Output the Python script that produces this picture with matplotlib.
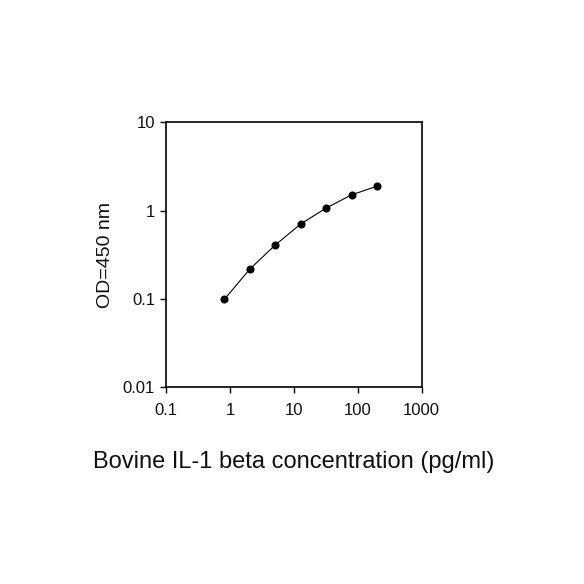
import matplotlib
matplotlib.use("Agg")
import matplotlib.pyplot as plt
from matplotlib.ticker import FixedLocator, FixedFormatter, NullLocator

plt.rcParams['font.family'] = ['Liberation Sans', 'DejaVu Sans']

concentration = [0.8192, 2.048, 5.12, 12.8, 32, 80, 200]
od450 = [0.099, 0.218, 0.408, 0.706, 1.07, 1.51, 1.89]

x_ticks = [0.1, 1, 10, 100, 1000]
x_tick_labels = ["0.1", "1", "10", "100", "1000"]
y_ticks = [0.01, 0.1, 1, 10]
y_tick_labels = ["0.01", "0.1", "1", "10"]

fig = plt.figure(figsize=(5.84, 5.84), dpi=100)
ax = fig.add_axes([166/584, 1-387.3/584, (421.7-166)/584, (387.3-122.3)/584])

ax.plot(concentration, od450, color='black', linewidth=0.8,
        marker='o', markersize=4.8, markerfacecolor='black', markeredgecolor='black')

ax.set_xscale('log')
ax.set_yscale('log')
ax.set_xlim(0.1, 1000)
ax.set_ylim(0.01, 10)

ax.xaxis.set_major_locator(FixedLocator(x_ticks))
ax.xaxis.set_major_formatter(FixedFormatter(x_tick_labels))
ax.xaxis.set_minor_locator(NullLocator())
ax.yaxis.set_major_locator(FixedLocator(y_ticks))
ax.yaxis.set_major_formatter(FixedFormatter(y_tick_labels))
ax.yaxis.set_minor_locator(NullLocator())

ax.tick_params(axis='both', which='major', direction='out', length=4, width=1,
               labelsize=12, color='black', labelcolor='#111111', pad=4)
ax.tick_params(axis='x', pad=7)

for s in ax.spines.values():
    s.set_linewidth(1.2)
    s.set_color('black')

ax.set_xlabel("Bovine IL-1 beta concentration (pg/ml)", fontsize=17, labelpad=24, color='#111111')
ax.set_ylabel("OD=450 nm", fontsize=14, labelpad=6, color='#111111')

fig.savefig("out.png", dpi=100, facecolor='white')
